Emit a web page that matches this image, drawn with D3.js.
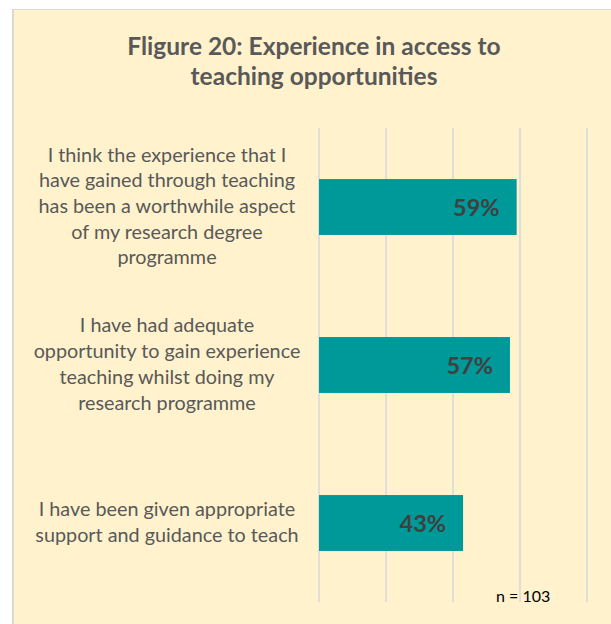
<!DOCTYPE html>
<html>
<head>
<meta charset="utf-8">
<script src="https://cdn.jsdelivr.net/npm/d3@7"></script>
<style>
  html, body { margin: 0; padding: 0; background: #ffffff; }
  svg { display: block; }
</style>
</head>
<body>
<svg id="chart" width="611" height="624"></svg>
<script>
// Chart content
const titleLines = ["Fligure 20: Experience in access to", "teaching opportunities"];
const categoryLines = [
  ["I think the experience that I", "have gained through teaching", "has been a worthwhile aspect", "of my research degree", "programme"],
  ["I have had adequate", "opportunity to gain experience", "teaching whilst doing my", "research programme"],
  ["I  have been given appropriate", "support and guidance to teach"]
];
const values = [59, 57, 43];
const xTicks = [0, 20, 40, 60, 80];
const sampleNote = "n = 103";

const svg = d3.select("#chart");
const W = 611, H = 624;

// Panel background with a thin grey frame on the top and left edges
svg.append("rect")
  .attr("x", 13).attr("y", 9.5)
  .attr("width", W).attr("height", H)
  .attr("fill", "#FFF2CC");
svg.append("line")
  .attr("x1", 13).attr("x2", 13).attr("y1", 9).attr("y2", H)
  .attr("stroke", "#D9D9D9").attr("stroke-width", 2);
svg.append("line")
  .attr("x1", 12).attr("x2", W).attr("y1", 9.5).attr("y2", 9.5)
  .attr("stroke", "#D9D9D9").attr("stroke-width", 1);

// Title
const title = svg.append("text")
  .attr("text-anchor", "middle")
  .attr("font-family", "Lato, 'Open Sans', sans-serif")
  .attr("font-weight", "bold")
  .attr("font-size", 24.5)
  .attr("fill", "#595959");
title.selectAll("tspan")
  .data(titleLines)
  .join("tspan")
  .attr("x", 314)
  .attr("y", (d, i) => 55 + i * 30)
  .text(d => d);

// Scales
const plotTop = 128, plotBottom = 602;
const x = d3.scaleLinear().domain([0, 80]).range([319, 587]);
const y = d3.scaleBand()
  .domain(d3.range(values.length))
  .range([plotTop, plotBottom])
  .paddingInner(0.646)
  .paddingOuter(0.323);

// Vertical gridlines
svg.append("g")
  .selectAll("line")
  .data(xTicks)
  .join("line")
  .attr("x1", d => x(d)).attr("x2", d => x(d))
  .attr("y1", plotTop).attr("y2", plotBottom)
  .attr("stroke", "#D9D9D9")
  .attr("stroke-width", 1.6);

// Bars
svg.append("g")
  .selectAll("rect")
  .data(values)
  .join("rect")
  .attr("x", x(0))
  .attr("y", (d, i) => y(i))
  .attr("width", d => x(d) - x(0))
  .attr("height", y.bandwidth())
  .attr("fill", "#009999");

// Value labels inside the bar ends
svg.append("g")
  .selectAll("text")
  .data(values)
  .join("text")
  .attr("x", d => x(d) - 17)
  .attr("y", (d, i) => y(i) + y.bandwidth() / 2 + 9)
  .attr("text-anchor", "end")
  .attr("font-family", "Lato, 'Open Sans', sans-serif")
  .attr("font-weight", "bold")
  .attr("font-size", 23.5)
  .attr("fill", "#404040")
  .text(d => d + "%");

// Category labels, centred beside each bar (spacing kept as written)
const lineH = 25.7;
const catG = svg.append("g")
  .attr("font-family", "Lato, 'Open Sans', sans-serif")
  .attr("font-size", 19.8)
  .attr("fill", "#595959")
  .attr("text-anchor", "middle")
  .style("white-space", "pre");
categoryLines.forEach((lines, i) => {
  const cy = y(i) + y.bandwidth() / 2;
  const t = catG.append("text");
  t.selectAll("tspan")
    .data(lines)
    .join("tspan")
    .attr("x", 167)
    .attr("y", (d, j) => cy + (j - (lines.length - 1) / 2) * lineH + 6)
    .text(d => d);
});

// Sample size note
svg.append("text")
  .attr("x", 496)
  .attr("y", 602)
  .attr("font-family", "Lato, 'Open Sans', sans-serif")
  .attr("font-size", 16)
  .attr("fill", "#000000")
  .text(sampleNote);
</script>
</body>
</html>
